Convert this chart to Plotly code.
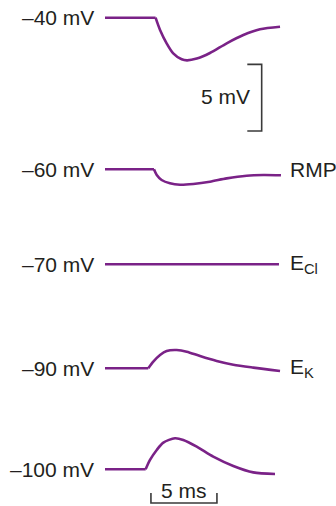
import plotly.graph_objects as go

# ---- data (time in ms, membrane potential in mV) ----
t_40 = [0, 3.83, 4.17, 4.67, 5.17, 5.81, 6.21, 6.95, 7.95, 9.22, 10.48, 11.74, 13.26]
v_40 = [-40, -40, -40.92, -41.92, -42.67, -43.12, -43.20, -43.07, -42.65, -41.92, -41.30, -40.87, -40.68]

t_60 = [0, 3.71, 3.92, 4.29, 4.92, 5.68, 6.69, 7.95, 9.22, 10.73, 11.99, 13.33]
v_60 = [-60, -60, -60.43, -60.80, -61.05, -61.16, -61.10, -60.93, -60.68, -60.48, -60.43, -60.45]

t_70 = [0, 13.18]
v_70 = [-70, -70]

t_90 = [0, 3.28, 3.66, 4.17, 4.67, 5.43, 6.19, 7.20, 8.46, 9.72, 11.23, 13.26]
v_90 = [-90, -90, -89.50, -89.00, -88.70, -88.63, -88.75, -89.08, -89.45, -89.73, -89.95, -90.20]

t_100 = [0, 3.08, 3.41, 3.92, 4.42, 5.30, 5.93, 6.95, 8.20, 9.72, 11.23, 12.88]
v_100 = [-100, -100, -99.30, -98.55, -98.00, -97.67, -97.80, -98.30, -99.05, -99.75, -100.23, -100.35]

baselines = [-40, -60, -70, -90, -100]
left_labels = ["–40 mV", "–60 mV", "–70 mV", "–90 mV", "–100 mV"]
right_labels = ["", "RMP", "E<sub>Cl</sub>", "E<sub>K</sub>", ""]

scale_mv = 5
scale_ms = 5

# ---- layout geometry ----
W, H = 336, 506
PX_PER_MS = 13.2
PX_PER_MV = 13.33
X0 = 105                      # pixel of t = 0
rows_px = [17.7, 169.3, 264.3, 368.3, 469.3]   # pixel row of each baseline
RIGHT_LABEL_PX = 288

PURPLE = "#7a2287"
TEXT = "#231f20"
BAR = "#3a3a3a"
FONT = "Liberation Sans, Arial, sans-serif"

series = [(t_40, v_40), (t_60, v_60), (t_70, v_70), (t_90, v_90), (t_100, v_100)]

fig = go.Figure()
layout_axes = {}
annotations = []

for k, ((t, v), base, row) in enumerate(zip(series, baselines, rows_px)):
    yname = "y" if k == 0 else f"y{k+1}"
    axkey = "yaxis" if k == 0 else f"yaxis{k+1}"
    # flat resting segment (straight) and the response (smooth)
    fig.add_trace(go.Scatter(
        x=t[:2], y=v[:2], mode="lines", yaxis=yname,
        line=dict(color=PURPLE, width=2.6),
        hoverinfo="skip", showlegend=False))
    if len(t) > 2:
        fig.add_trace(go.Scatter(
            x=t[1:], y=v[1:], mode="lines", yaxis=yname,
            line=dict(color=PURPLE, width=2.6, shape="spline", smoothing=0.8),
            hoverinfo="skip", showlegend=False))
    ax = dict(range=[base - (H - row) / PX_PER_MV, base + row / PX_PER_MV],
              visible=False, fixedrange=True)
    if k > 0:
        ax["overlaying"] = "y"
    layout_axes[axkey] = ax
    annotations.append(dict(x=0, y=base, xref="x", yref=yname, text=left_labels[k],
                            xanchor="right", yanchor="middle", xshift=-9, showarrow=False,
                            font=dict(family=FONT, size=21, color=TEXT)))
    if right_labels[k]:
        annotations.append(dict(x=(RIGHT_LABEL_PX - X0) / PX_PER_MS, y=base, xref="x", yref=yname,
                                text=right_labels[k], xanchor="left", yanchor="middle",
                                showarrow=False,
                                font=dict(family=FONT, size=21, color=TEXT)))

# 5 mV scale bar (on the -40 mV axis)
bar_top = -43.5
bar_x = 11.87
tick_len = 1.09
fig.add_trace(go.Scatter(
    x=[bar_x - tick_len, bar_x, bar_x, bar_x - tick_len],
    y=[bar_top, bar_top, bar_top - scale_mv, bar_top - scale_mv],
    mode="lines", yaxis="y", line=dict(color=BAR, width=1.6),
    hoverinfo="skip", showlegend=False))
annotations.append(dict(x=bar_x - tick_len, y=bar_top - scale_mv / 2, xref="x", yref="y",
                        text="5 mV", xanchor="right", yanchor="middle", xshift=5, yshift=1,
                        showarrow=False, font=dict(family=FONT, size=21, color=TEXT)))

# 5 ms scale bar (on the -100 mV axis)
tbar_x0 = 3.48
tbar_y = -102.53
ttick = 0.75
fig.add_trace(go.Scatter(
    x=[tbar_x0, tbar_x0, tbar_x0 + scale_ms, tbar_x0 + scale_ms],
    y=[tbar_y + ttick, tbar_y, tbar_y, tbar_y + ttick],
    mode="lines", yaxis="y5", line=dict(color=BAR, width=1.6),
    hoverinfo="skip", showlegend=False, cliponaxis=False))
annotations.append(dict(x=tbar_x0 + scale_ms / 2, y=tbar_y + 0.95, xref="x", yref="y5",
                        text="5 ms", xanchor="center", yanchor="middle",
                        showarrow=False, font=dict(family=FONT, size=21, color=TEXT)))

fig.update_layout(
    width=W, height=H,
    margin=dict(l=0, r=0, t=0, b=0),
    paper_bgcolor="white", plot_bgcolor="white",
    xaxis=dict(range=[-X0 / PX_PER_MS, (W - X0) / PX_PER_MS], visible=False, fixedrange=True),
    annotations=annotations,
    showlegend=False,
    hovermode=False,
    **layout_axes)

fig.write_html("out.html", config={"displayModeBar": False},
               post_script="document.body.style.margin='0';document.body.style.overflow='hidden';")
